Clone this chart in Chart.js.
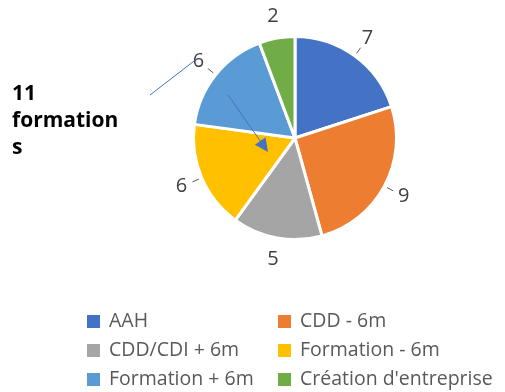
<!DOCTYPE html>
<html>
<head>
<meta charset="utf-8">
<script src="https://cdn.jsdelivr.net/npm/chart.js@4.4.1/dist/chart.umd.min.js"></script>
<style>
  html, body { margin: 0; padding: 0; background: #fff; }
  canvas { display: block; }
</style>
</head>
<body>
<canvas id="sorties" width="505" height="392"></canvas>
<script>
// Situation à la sortie
const categories = ['AAH', 'CDD - 6m', 'CDD/CDI + 6m', 'Formation - 6m', 'Formation + 6m', "Création d'entreprise"];
const effectifs = [7, 9, 5, 6, 6, 2];
const couleurs = ['#4472C4', '#ED7D31', '#A5A5A5', '#FFC000', '#5B9BD5', '#70AD47'];
const avecTrait = [true, true, false, true, true, false];
const noteLignes = ['11', 'formation', 's'];

const FONT = '"Open Sans", Lato, sans-serif';

const etiquettes = {
    id: 'etiquettes',
    afterDatasetsDraw(chart) {
        const ctx = chart.ctx;
        const meta = chart.getDatasetMeta(0);
        ctx.save();
        ctx.font = '20px ' + FONT;
        ctx.fillStyle = '#404040';
        ctx.textAlign = 'center';
        ctx.textBaseline = 'middle';
        meta.data.forEach(function (arc, i) {
            const mid = (arc.startAngle + arc.endAngle) / 2;
            const r = arc.outerRadius;
            const cos = Math.cos(mid), sin = Math.sin(mid);
            if (avecTrait[i]) {
                ctx.strokeStyle = '#595959';
                ctx.lineWidth = 1;
                ctx.beginPath();
                ctx.moveTo(arc.x + cos * (r + 3), arc.y + sin * (r + 3));
                ctx.lineTo(arc.x + cos * (r + 10), arc.y + sin * (r + 10));
                ctx.stroke();
            }
            ctx.fillText(String(effectifs[i]), arc.x + cos * (r + 22), arc.y + sin * (r + 22));
        });
        ctx.restore();
    },
    afterDraw(chart) {
        const ctx = chart.ctx;
        ctx.save();

        // note "11 formations" avec son trait et sa flèche
        ctx.font = 'bold 21px ' + FONT;
        ctx.fillStyle = '#000';
        ctx.textBaseline = 'alphabetic';
        noteLignes.forEach(function (t, k) {
            ctx.fillText(t, 12, 100 + k * 27);
        });
        ctx.strokeStyle = '#4472C4';
        ctx.fillStyle = '#4472C4';
        ctx.lineWidth = 1;
        ctx.beginPath();
        ctx.moveTo(150, 95);
        ctx.lineTo(198, 58);
        ctx.stroke();

        const x0 = 228, y0 = 95, x1 = 268, y1 = 152;
        const a = Math.atan2(y1 - y0, x1 - x0);
        ctx.beginPath();
        ctx.moveTo(x0, y0);
        ctx.lineTo(x1 - Math.cos(a) * 10, y1 - Math.sin(a) * 10);
        ctx.stroke();
        ctx.beginPath();
        ctx.moveTo(x1, y1);
        ctx.lineTo(x1 - Math.cos(a - 0.45) * 15, y1 - Math.sin(a - 0.45) * 15);
        ctx.lineTo(x1 - Math.cos(a + 0.45) * 15, y1 - Math.sin(a + 0.45) * 15);
        ctx.closePath();
        ctx.fill();

        // légende sur deux colonnes
        ctx.font = '19.5px ' + FONT;
        ctx.textBaseline = 'middle';
        const colX = [87, 278];
        categories.forEach(function (nom, i) {
            const x = colX[i % 2];
            const y = 321 + Math.floor(i / 2) * 29;
            ctx.fillStyle = couleurs[i];
            ctx.fillRect(x, y - 6, 13, 13);
            ctx.fillStyle = '#595959';
            ctx.fillText(nom, x + 22, y);
        });
        ctx.restore();
    }
};

new Chart(document.getElementById('sorties'), {
    type: 'pie',
    data: {
        labels: categories,
        datasets: [{
            data: effectifs,
            backgroundColor: couleurs,
            borderColor: '#ffffff',
            borderWidth: 3
        }]
    },
    options: {
        responsive: false,
        animation: false,
        layout: { padding: { left: 192, right: 107, top: 35, bottom: 151 } },
        plugins: {
            legend: { display: false },
            tooltip: { enabled: false }
        }
    },
    plugins: [etiquettes]
});
</script>
</body>
</html>
